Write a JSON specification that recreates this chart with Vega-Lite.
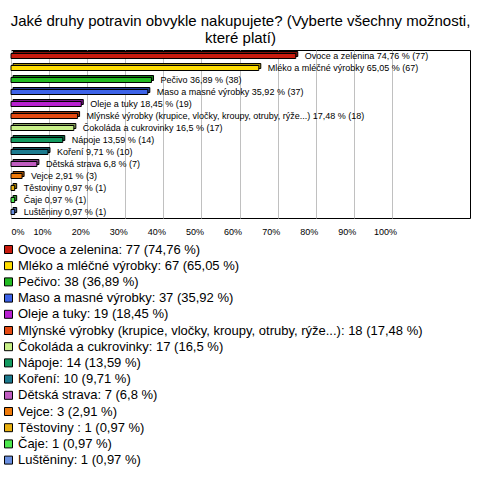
{
  "$schema": "https://vega.github.io/schema/vega-lite/v6.json",
  "width": 459,
  "height": 168,
  "autosize": {"type": "none"},
  "padding": {"left": 11, "top": 50, "right": 10, "bottom": 274},
  "background": "white",
  "title": {
    "text": ["Jaké druhy potravin obvykle nakupujete? (Vyberte všechny možnosti,", "které platí)"],
    "fontSize": 15,
    "fontWeight": "normal",
    "font": "Liberation Sans",
    "color": "black",
    "anchor": "middle",
    "lineHeight": 17,
    "offset": 4
  },
  "data": {"values": [
    {"cat": "Ovoce a zelenina", "pct": 74.76, "label": "Ovoce a zelenina 74,76 % (77)", "legend": "Ovoce a zelenina: 77 (74,76 %)"},
    {"cat": "Mléko a mléčné výrobky", "pct": 65.05, "label": "Mléko a mléčné výrobky 65,05 % (67)", "legend": "Mléko a mléčné výrobky: 67 (65,05 %)"},
    {"cat": "Pečivo", "pct": 36.89, "label": "Pečivo 36,89 % (38)", "legend": "Pečivo: 38 (36,89 %)"},
    {"cat": "Maso a masné výrobky", "pct": 35.92, "label": "Maso a masné výrobky 35,92 % (37)", "legend": "Maso a masné výrobky: 37 (35,92 %)"},
    {"cat": "Oleje a tuky", "pct": 18.45, "label": "Oleje a tuky 18,45 % (19)", "legend": "Oleje a tuky: 19 (18,45 %)"},
    {"cat": "Mlýnské výrobky", "pct": 17.48, "label": "Mlýnské výrobky (krupice, vločky, kroupy, otruby, rýže...) 17,48 % (18)", "legend": "Mlýnské výrobky (krupice, vločky, kroupy, otruby, rýže...): 18 (17,48 %)"},
    {"cat": "Čokoláda a cukrovinky", "pct": 16.5, "label": "Čokoláda a cukrovinky 16,5 % (17)", "legend": "Čokoláda a cukrovinky: 17 (16,5 %)"},
    {"cat": "Nápoje", "pct": 13.59, "label": "Nápoje 13,59 % (14)", "legend": "Nápoje: 14 (13,59 %)"},
    {"cat": "Koření", "pct": 9.71, "label": "Koření 9,71 % (10)", "legend": "Koření: 10 (9,71 %)"},
    {"cat": "Dětská strava", "pct": 6.8, "label": "Dětská strava 6,8 % (7)", "legend": "Dětská strava: 7 (6,8 %)"},
    {"cat": "Vejce", "pct": 2.91, "label": "Vejce 2,91 % (3)", "legend": "Vejce: 3 (2,91 %)"},
    {"cat": "Těstoviny", "pct": 0.97, "label": "Těstoviny  0,97 % (1)", "legend": "Těstoviny : 1 (0,97 %)"},
    {"cat": "Čaje", "pct": 0.97, "label": "Čaje 0,97 % (1)", "legend": "Čaje: 1 (0,97 %)"},
    {"cat": "Luštěniny", "pct": 0.97, "label": "Luštěniny 0,97 % (1)", "legend": "Luštěniny: 1 (0,97 %)"}
  ]},
  "encoding": {
    "y": {"field": "cat", "type": "nominal", "sort": null, "axis": null,
          "scale": {"paddingInner": 0.5, "paddingOuter": 0.25}},
    "x": {"field": "pct", "type": "quantitative",
          "scale": {"domain": [0, 120.5], "nice": false, "zero": true},
          "axis": {"values": [0, 10, 20, 30, 40, 50, 60, 70, 80, 90, 100], "title": null,
                   "labelExpr": "datum.value + '%'", "grid": true, "gridColor": "#c0c0c0",
                   "ticks": false, "domain": false, "labelFontSize": 9, "labelColor": "black",
                   "labelFont": "Liberation Sans", "labelPadding": 9,
                   "labelOffset": {"condition": {"test": "datum.value == 0", "value": 0}, "value": -7}}},
    "color": {"field": "legend", "type": "nominal", "sort": null,
              "scale": {"range": ["#c81b0e", "#ffdd00", "#22bb22", "#3d63e8", "#b820d0", "#e54a12", "#c8f088", "#139a60", "#1b7a8e", "#c05cc0", "#ee7a0a", "#e9b010", "#4de84d", "#6a8fe0"]},
              "legend": {"orient": "none", "legendX": -9, "legendY": 193, "title": null,
                         "direction": "vertical", "columns": 1, "symbolType": "square",
                         "symbolSize": 64, "symbolStrokeColor": "black", "symbolStrokeWidth": 1,
                         "symbolOpacity": 1,
                         "labelFontSize": 13, "labelFont": "Liberation Sans", "labelColor": "black",
                         "labelLimit": 600, "rowPadding": 2.2, "padding": 0, "labelOffset": 3}}
  },
  "layer": [
    {
      "mark": {"type": "bar", "size": 5, "xOffset": 2, "yOffset": -2, "stroke": "black", "strokeWidth": 1}
    },
    {
      "mark": {"type": "bar", "size": 5, "xOffset": 2, "yOffset": -2, "fill": "black", "opacity": 0.35}
    },
    {
      "mark": {"type": "bar", "size": 5, "stroke": "black", "strokeWidth": 1}
    },
    {
      "mark": {"type": "text", "align": "left", "baseline": "middle", "dx": 9, "fontSize": 9, "font": "Liberation Sans", "fill": "black"},
      "encoding": {"text": {"field": "label"}}
    }
  ],
  "config": {
    "view": {"stroke": "black", "strokeWidth": 1},
    "font": "Liberation Sans"
  }
}
